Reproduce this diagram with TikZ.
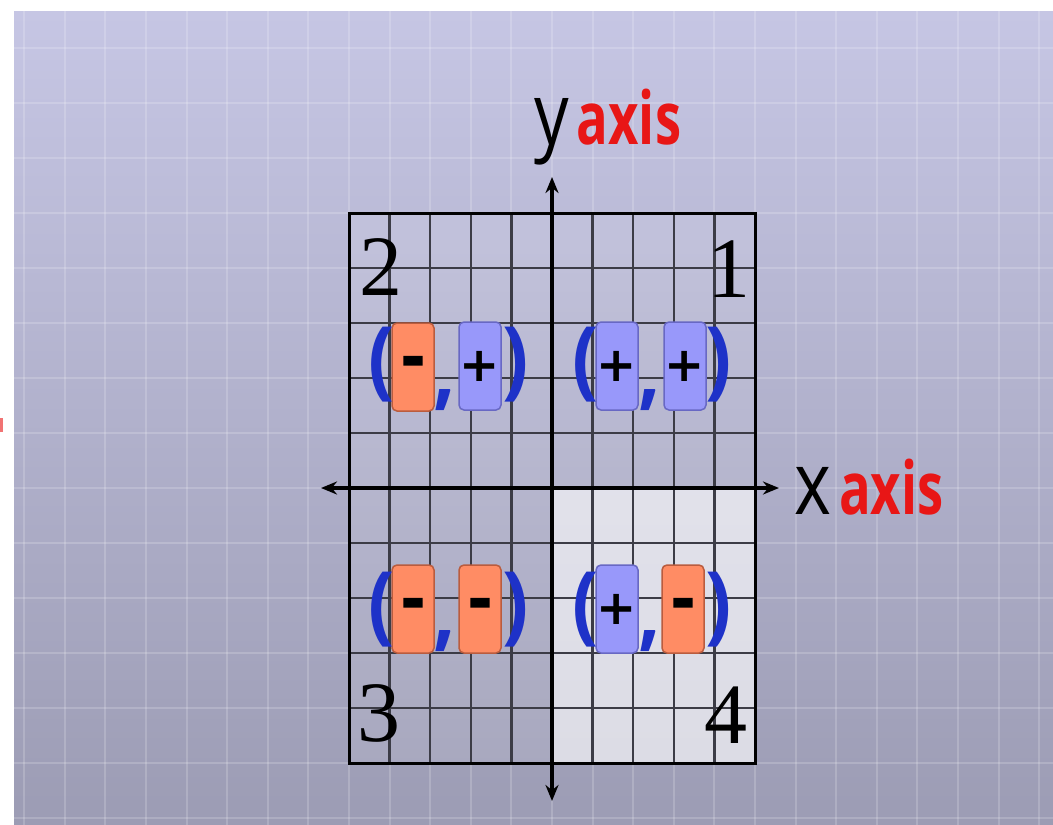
\documentclass[tikz,border=0pt]{standalone}
\usepackage{fontspec}
\setmainfont{Liberation Serif}
\newfontfamily\letterfont[FakeStretch=0.8]{Open Sans}
\newfontfamily\redfont[FakeStretch=0.72]{Open Sans}
\newfontfamily\parenfont[FakeStretch=0.9]{Open Sans}
\newfontfamily\signfont{DejaVu Sans}
\newfontfamily\minusfont[FakeBold=2.5]{DejaVu Sans}
\usetikzlibrary{arrows.meta}

\definecolor{bgtop}{RGB}{198,198,228}
\definecolor{bgmid}{RGB}{186,186,214}
\definecolor{bgbot}{RGB}{156,156,180}
\definecolor{negfill}{RGB}{255,140,100}
\definecolor{negline}{RGB}{186,92,62}
\definecolor{posfill}{RGB}{152,152,250}
\definecolor{posline}{RGB}{104,104,196}
\definecolor{parblue}{RGB}{30,50,200}
\definecolor{axisred}{RGB}{232,22,22}
\definecolor{cellline}{RGB}{60,60,70}

\tikzset{
  signbox/.style={draw, line width=1.5pt, rounded corners=5pt, minimum width=42pt,
    minimum height=88pt, inner sep=0pt, font=\signfont\bfseries\fontsize{48}{48}\selectfont},
  negbox/.style={signbox, fill=negfill, draw=negline, font=\minusfont\bfseries\fontsize{58}{58}\selectfont},
  posbox/.style={signbox, fill=posfill, draw=posline},
  paren/.style={text=parblue, inner sep=0pt, font=\parenfont\bfseries\fontsize{86}{86}\selectfont},
  quadnum/.style={inner sep=0pt, font=\fontsize{86}{86}\selectfont},
  axislabel/.style={inner sep=0pt, anchor=base west},
  axisline/.style={line width=3.5pt, {Stealth[length=16pt,width=13pt]}-{Stealth[length=16pt,width=13pt]}},
}

\begin{document}
\begin{tikzpicture}[x=1pt,y=-1pt]

  \useasboundingbox (0,0) rectangle (1053,825);
  \fill[white] (0,0) rectangle (1053,825);

  % background paper
  \shade[top color=bgtop, middle color=bgmid, bottom color=bgbot] (14,11) rectangle (1053,825);
  \begin{scope}
    \clip (14,11) rectangle (1053,825);
    \foreach \k in {-8,...,17}
      \draw[white, opacity=0.18, line width=2pt] ({349+40.6*\k},11) -- ({349+40.6*\k},825);
    \foreach \k in {-8,...,6}
      \draw[white, opacity=0.18, line width=2pt] (14,{488+55*\k}) -- (1053,{488+55*\k});
  \end{scope}
  \fill[axisred, opacity=0.6] (0,418) rectangle (3,432);

  % the grid
  \fill[white, opacity=0.1] (349,213) rectangle (755,763);
  \fill[white, opacity=0.6] (552,488) rectangle (755,763);
  \foreach \k in {1,2,3,4,6,7,8,9}
    \draw[cellline, line width=2.4pt] ({349+40.6*\k},213) -- ({349+40.6*\k},763);
  \foreach \k in {1,...,9}
    \draw[cellline, line width=2.4pt] (349,{213+55*\k}) -- (755,{213+55*\k});
  \draw[line width=3pt] (349,213) rectangle (755,763);

  % axes
  \coordinate (xw) at (321,488);
  \coordinate (xe) at (779,488);
  \coordinate (yn) at (552,177);
  \coordinate (ys) at (552,801);
  \draw[axisline] (xw) -- (xe);
  \draw[axisline] (ys) -- (yn);

  \node[axislabel] (ylab) at (534,144)
    {{\letterfont\fontsize{86}{86}\selectfont y}\hspace{8pt}{\redfont\bfseries\fontsize{73}{73}\selectfont\color{axisred}axis}};
  \node[axislabel] (xlab) at (794,514)
    {{\letterfont\fontsize{88}{88}\selectfont x}\hspace{8pt}{\redfont\bfseries\fontsize{73}{73}\selectfont\color{axisred}axis}};

  % quadrant numbers
  \begin{scope}[every node/.style={quadnum}]
    \node (q1) at (729,269) {1};
    \node (q2) at (381,267) {2};
    \node (q3) at (379,713) {3};
    \node (q4) at (726,715) {4};
  \end{scope}

  % sign pairs
  \node[negbox] (q2a) at (413,367) {-};
  \node[posbox] (q2b) at (480,366) {+};
  \node[posbox] (q1a) at (617,366) {+};
  \node[posbox] (q1b) at (685,366) {+};
  \node[negbox] (q3a) at (413,609) {-};
  \node[negbox] (q3b) at (480,609) {-};
  \node[posbox] (q4a) at (617,609) {+};
  \node[negbox] (q4b) at (683,609) {-};

  \begin{scope}[every node/.style={paren}]
    \node (q2l) at (382,365) {(};
    \node (q2c) at (445,400) {,};
    \node (q2r) at (516,365) {)};
    \node (q1l) at (586,365) {(};
    \node (q1c) at (650,400) {,};
    \node (q1r) at (719,365) {)};
    \node (q3l) at (382,610) {(};
    \node (q3c) at (445,641) {,};
    \node (q3r) at (516,610) {)};
    \node (q4l) at (586,610) {(};
    \node (q4c) at (650,641) {,};
    \node (q4r) at (719,610) {)};
  \end{scope}

\end{tikzpicture}
\end{document}
